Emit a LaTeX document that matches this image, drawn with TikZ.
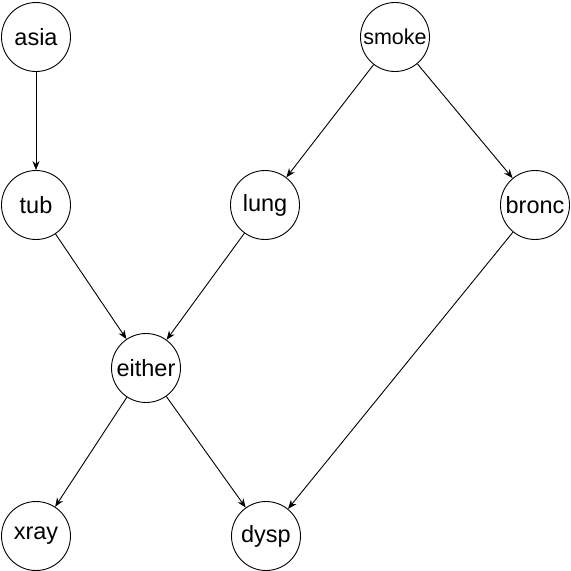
\documentclass[tikz,border=0pt]{standalone}
\usepackage{fontspec}
\setmainfont{Liberation Sans}
\usetikzlibrary{arrows.meta}
\begin{document}
\begin{tikzpicture}[x=1pt,y=-1pt,
  bnode/.style={circle,draw,line width=0.9pt,minimum size=69pt,inner sep=0pt,font=\fontsize{23.5}{26}\selectfont},
  edge/.style={draw,line width=0.9pt,-{Stealth[length=9pt,width=7pt]}}]
\useasboundingbox (0,0) rectangle (571,571);
\node[bnode] (asia) at (36,37) {asia};
\node[bnode,font=\fontsize{21.5}{24}\selectfont] (smoke) at (395,37) {smoke};
\node[bnode] (tub) at (36,205) {tub};
\node[bnode] (lung) at (265,205) {lung};
\node[bnode] (bronc) at (535,205) {bronc};
\node[bnode] (either) at (146,368) {either};
\node[bnode] (xray) at (36,536) {xray};
\node[bnode] (dysp) at (266,536) {dysp};
\draw[edge] (asia) -- (tub);
\draw[edge] (smoke) -- (lung);
\draw[edge] (smoke) -- (bronc);
\draw[edge] (tub) -- (either);
\draw[edge] (lung) -- (either);
\draw[edge] (either) -- (xray);
\draw[edge] (either) -- (dysp);
\draw[edge] (bronc) -- (dysp);
\end{tikzpicture}
\end{document}
